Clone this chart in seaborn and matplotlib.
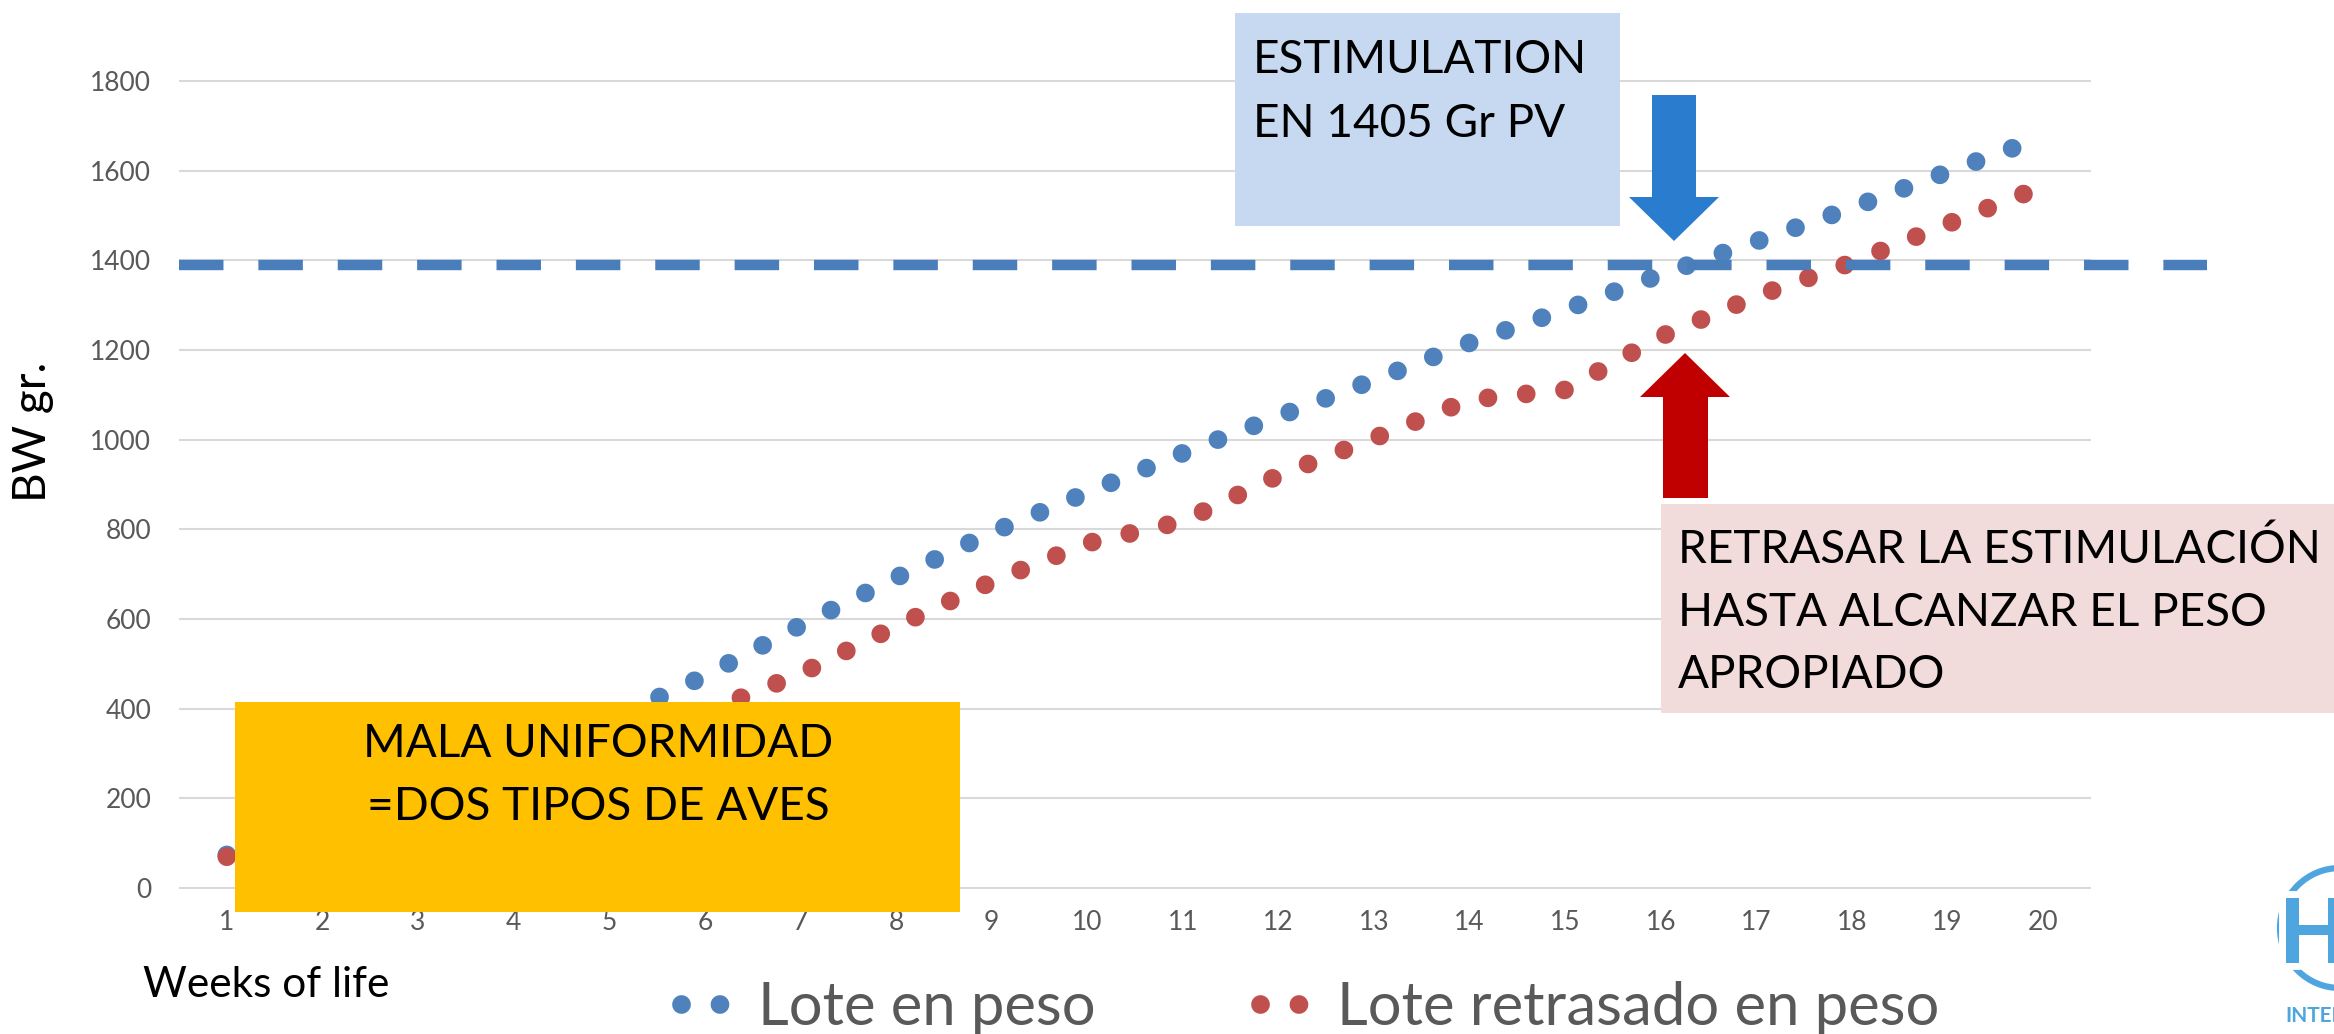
import matplotlib
matplotlib.use("Agg")
import matplotlib.pyplot as plt
import matplotlib.patheffects as pe
from matplotlib.patches import Rectangle, Polygon, Ellipse
import pandas as pd
import seaborn as sns

# values (BW in grams per week of life)
weeks = list(range(1, 21))
bw_on_weight = [74, 130, 200, 285, 374, 473, 586, 692, 793, 882,
                970, 1052, 1133, 1216, 1290, 1368, 1442, 1517, 1597, 1675]
bw_delayed = [70, 130, 190, 255, 320, 392, 478, 584, 683, 769,
              818, 920, 1003, 1089, 1111, 1230, 1320, 1395, 1481, 1565]
series_names = ["Lote en peso", "Lote retrasado en peso"]
stim_bw = 1390
y_ticks = list(range(0, 2000, 200))

BLUE, RED, DASH = "#4F81BD", "#C0504D", "#4A7EBB"
GREY_TXT = "#595959"
LOGO = "#4FA6DE"

W, H = 2334, 1034


def fx(x):
    return x / W


def fy(y):
    return 1 - y / H


sns.set_theme(style="whitegrid", rc={"grid.color": "#D9D9D9", "grid.linewidth": 1.5})
plt.rcParams["font.family"] = ["Lato", "DejaVu Sans"]

fig = plt.figure(figsize=(W / 100, H / 100), dpi=100)
ax = fig.add_axes([fx(179), fy(889), fx(2091) - fx(179), (889 - 80) / H])

df = pd.DataFrame({
    "week": weeks * 2,
    "bw": bw_on_weight + bw_delayed,
    "lote": [series_names[0]] * len(weeks) + [series_names[1]] * len(weeks),
})

# round-dot lines like the Excel original; second series drawn over the first
for name, color, z in [(series_names[0], BLUE, 2), (series_names[1], RED, 3)]:
    sns.lineplot(data=df[df["lote"] == name], x="week", y="bw", color=color,
                 linewidth=13.5, linestyle=(0, (0.001, 2.05)), dash_capstyle="round",
                 zorder=z, label=name, legend=False, ax=ax)

ax.axhline(stim_bw, xmin=0, xmax=1.0607, clip_on=False, color=DASH,
           linewidth=7.5, linestyle=(0, (4.27, 3.35)), zorder=4)

ax.set_xlim(0.5, 20.5)
ax.set_ylim(-2, 1802)
ax.set_xticks(weeks)
ax.set_yticks(y_ticks)
ax.xaxis.grid(False)
sns.despine(ax=ax, left=True, bottom=True)
ax.tick_params(axis="both", length=0, labelsize=19, labelcolor=GREY_TXT)
ax.tick_params(axis="x", pad=15)
ax.tick_params(axis="y", pad=20)

ax.set_ylabel("BW gr.", fontsize=33, color="black", va="center")
ax.yaxis.set_label_coords((33 - 179) / 1912, (889 - 432) / 809)
ax.set_xlabel("Weeks of life", fontsize=30.5, color="black", ha="left", va="baseline")
ax.xaxis.set_label_coords((143 - 179) / 1912, (889 - 997) / 809)

handles, labels = ax.get_legend_handles_labels()
lookup = dict(zip(labels, handles))
fig.legend(handles=[lookup[n] for n in series_names], labels=series_names,
           loc="center", bbox_to_anchor=(fx(1310), fy(1008)), ncol=2, frameon=False,
           fontsize=43, handlelength=0.75, handletextpad=0.54, columnspacing=2.75,
           labelcolor=GREY_TXT)


def box(x0, y0, x1, y1, color):
    fig.add_artist(Rectangle((fx(x0), fy(y1)), fx(x1) - fx(x0), fy(y0) - fy(y1),
                             transform=fig.transFigure, facecolor=color,
                             edgecolor="none", zorder=5))


def lines_of_text(x, baselines, texts, ha="left"):
    for b, t in zip(baselines, texts):
        fig.text(fx(x), fy(b), t, fontsize=33, color="black", ha=ha,
                 va="baseline", zorder=6)


def arrow(points, color):
    fig.add_artist(Polygon([(fx(x), fy(y)) for x, y in points], closed=True,
                           transform=fig.transFigure, facecolor=color,
                           edgecolor="none", zorder=5))


# annotation boxes
box(1235, 13, 1620, 226, "#C6D9F1")
lines_of_text(1253, [73, 137], ["ESTIMULATION", "EN 1405 Gr PV"])

box(1661, 504, W, 713, "#F2DCDB")
lines_of_text(1678, [563, 626, 688],
              ["RETRASAR LA ESTIMULACIÓN", "HASTA ALCANZAR EL PESO", "APROPIADO"])

box(235, 702, 960, 912, "#FFC000")
lines_of_text(598, [757, 820], ["MALA UNIFORMIDAD", "=DOS TIPOS DE AVES"], ha="center")

arrow([(1652, 95), (1696, 95), (1696, 197), (1719, 197), (1674, 241),
       (1629, 197), (1652, 197)], "#2A7DCE")
arrow([(1663, 498), (1708, 498), (1708, 397), (1730, 397), (1685, 353),
       (1640, 397), (1663, 397)], "#C00000")

# partial logo at bottom right, cut by the slide edge as in the original
fig.add_artist(Ellipse((fx(2340), fy(928)), 120 / W, 120 / H, transform=fig.transFigure,
                       fill=False, edgecolor=LOGO, linewidth=4.5, zorder=5))
fig.text(fx(2279), fy(963), "H", fontsize=65, fontweight="black", color=LOGO,
         va="baseline", zorder=6,
         path_effects=[pe.withStroke(linewidth=10, foreground="white")])
fig.text(fx(2285), fy(1022), "INTER", fontsize=15, fontweight="bold", color=LOGO,
         va="baseline", zorder=6)

fig.savefig("out.png", dpi=100)
